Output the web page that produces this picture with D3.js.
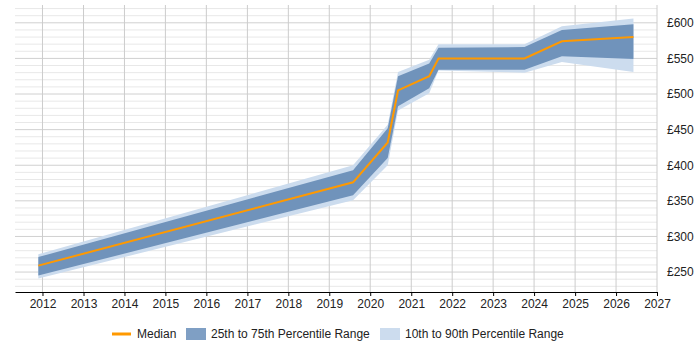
<!DOCTYPE html>
<html>
<head>
<meta charset="utf-8">
<script src="https://cdn.jsdelivr.net/npm/d3@7"></script>
<style>
  body { margin: 0; background: #fff; }
  #chart { width: 700px; height: 350px; }
  text { font-family: "Liberation Sans", Arial, sans-serif; }
</style>
</head>
<body>
<div id="chart"></div>
<script>
// Data
const dates = ['2011-11-25', '2019-08-01', '2020-06-05', '2020-09-05', '2021-06-10', '2021-09-01', '2023-10-08', '2024-09-05', '2026-06-05'];
const median = [259, 376, 432, 505, 525, 550, 550, 574, 580];
const p25 = [245, 358, 410, 483, 508, 534, 534, 553, 549];
const p75 = [271, 393, 452, 525, 543, 565, 566, 590, 598];
const p10 = [241, 351, 400, 477, 501, 533, 530, 545, 531];
const p90 = [275, 400, 457, 531, 548, 570, 570, 595, 606];
const yearTicks = d3.range(2012, 2028);
const yTicks = [250, 300, 350, 400, 450, 500, 550, 600];
const legendLabels = ['Median', '25th to 75th Percentile Range', '10th to 90th Percentile Range'];

const data = dates.map((d, i) => ({
    date: new Date(d),
    median: median[i], p25: p25[i], p75: p75[i], p10: p10[i], p90: p90[i]
}));

const width = 700, height = 350;
const margin = { top: 5, right: 43, bottom: 58, left: 15 };

const svg = d3.select('#chart').append('svg')
    .attr('width', width)
    .attr('height', height);

const x = d3.scaleTime()
    .domain([new Date(2011, 4, 1), new Date(2027, 0, 1)])
    .range([margin.left, width - margin.right]);

const y = d3.scaleLinear()
    .domain([222, 625])
    .range([height - margin.bottom, margin.top]);

// Minor horizontal grid
svg.append('g')
    .selectAll('line')
    .data(d3.range(230, 625, 10).filter(v => v % 50 !== 0))
    .enter().append('line')
    .attr('x1', margin.left).attr('x2', width - margin.right)
    .attr('y1', d => y(d)).attr('y2', d => y(d))
    .attr('stroke', '#e8e8e8');

// Major horizontal grid
svg.append('g')
    .selectAll('line')
    .data(yTicks)
    .enter().append('line')
    .attr('x1', margin.left).attr('x2', width - margin.right)
    .attr('y1', d => y(d)).attr('y2', d => y(d))
    .attr('stroke', '#d0d0d0');

// Vertical grid
svg.append('g')
    .selectAll('line')
    .data(yearTicks)
    .enter().append('line')
    .attr('x1', d => x(new Date(d, 0, 1))).attr('x2', d => x(new Date(d, 0, 1)))
    .attr('y1', margin.top).attr('y2', height - margin.bottom)
    .attr('stroke', '#cccccc');

// Bands
const area = (lo, hi) => d3.area()
    .x(d => x(d.date))
    .y0(d => y(d[lo]))
    .y1(d => y(d[hi]));

svg.append('path')
    .datum(data)
    .attr('fill', '#ccdcee')
    .attr('d', area('p10', 'p90'));

svg.append('path')
    .datum(data)
    .attr('fill', '#7093bb')
    .attr('d', area('p25', 'p75'));

// Median line
svg.append('path')
    .datum(data)
    .attr('fill', 'none')
    .attr('stroke', '#ff9900')
    .attr('stroke-width', 2)
    .attr('d', d3.line().x(d => x(d.date)).y(d => y(d.median)));

// X axis
const xAxis = svg.append('g')
    .attr('transform', `translate(0,${height - margin.bottom})`)
    .call(d3.axisBottom(x)
        .tickValues(yearTicks.map(yr => new Date(yr, 0, 1)))
        .tickFormat(d3.timeFormat('%Y'))
        .tickSize(4)
        .tickSizeOuter(0));
xAxis.select('.domain').attr('stroke', '#000');
xAxis.selectAll('.tick line').attr('stroke', '#000');
xAxis.selectAll('text')
    .style('font-size', '12px')
    .style('fill', '#222');

// Y axis (right, labels only)
const yAxis = svg.append('g')
    .attr('transform', `translate(${width - margin.right},0)`)
    .call(d3.axisRight(y)
        .tickValues(yTicks)
        .tickFormat(d => '£' + d)
        .tickSize(0)
        .tickPadding(10));
yAxis.select('.domain').remove();
yAxis.selectAll('text')
    .style('font-size', '12px')
    .style('fill', '#222');

// Legend
const legend = svg.append('g').attr('transform', 'translate(0,334)');
legend.append('line')
    .attr('x1', 112).attr('x2', 131)
    .attr('y1', 0).attr('y2', 0)
    .attr('stroke', '#ff9900').attr('stroke-width', 3);
legend.append('text').attr('x', 137).attr('y', 4).text(legendLabels[0]);
legend.append('rect')
    .attr('x', 186).attr('y', -6).attr('width', 20).attr('height', 12)
    .attr('fill', '#7f9fc4');
legend.append('text').attr('x', 211).attr('y', 4).text(legendLabels[1]);
legend.append('rect')
    .attr('x', 380).attr('y', -6).attr('width', 20).attr('height', 12)
    .attr('fill', '#ccdcee');
legend.append('text').attr('x', 405).attr('y', 4).text(legendLabels[2]);
legend.selectAll('text')
    .style('font-size', '12px')
    .style('fill', '#222');
</script>
</body>
</html>
